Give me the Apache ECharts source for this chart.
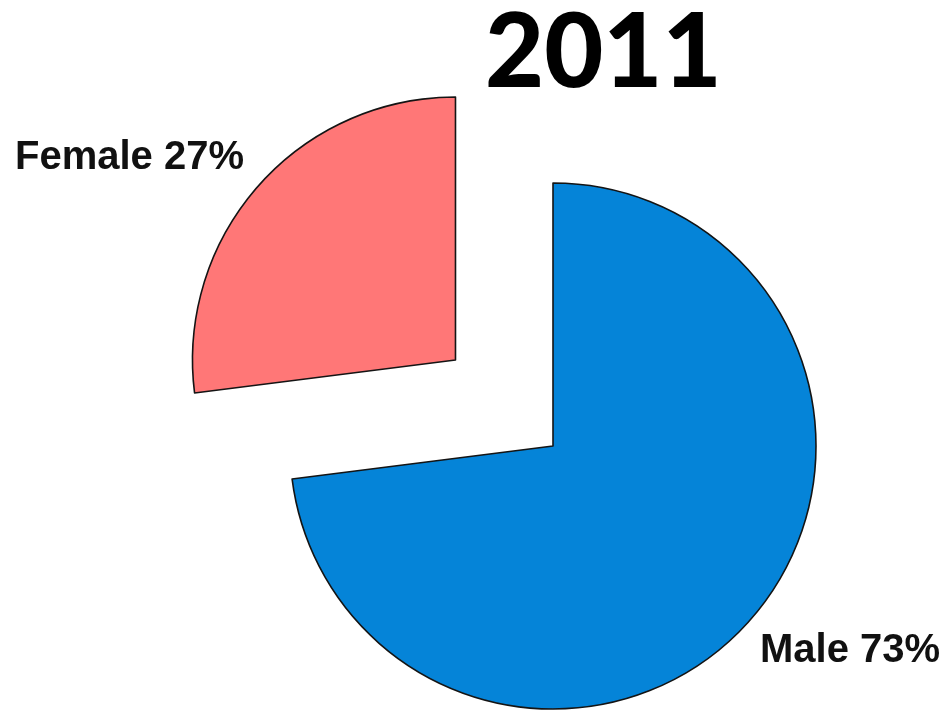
<!DOCTYPE html>
<html>
<head>
<meta charset="utf-8">
<script src="https://cdn.jsdelivr.net/npm/echarts@6/dist/echarts.min.js"></script>
<style>
html,body{margin:0;padding:0;background:#fff;}
#c{width:948px;height:716px;}
</style>
</head>
<body>
<div id="c"></div>
<script>
var titleText = '2011';
var categories = ['Male', 'Female'];
var values = [73, 27];
var colors = ['#0584d8', '#ff7777'];
var explodedCategory = 'Female';

var chart = echarts.init(document.getElementById('c'));
var labelBoxes = {
  'Male': {left: 760, top: 631},
  'Female': {left: 15, top: 138}
};
var data = categories.map(function (name, i) {
  return {
    name: name,
    value: values[i],
    selected: name === explodedCategory,
    itemStyle: {color: colors[i]}
  };
});
var labelTitles = categories.map(function (name, i) {
  return {
    text: name + ' ' + values[i] + '%',
    left: labelBoxes[name].left,
    top: labelBoxes[name].top,
    padding: 0,
    textStyle: {
      fontFamily: 'Liberation Sans',
      fontWeight: 'bold',
      fontSize: 40,
      lineHeight: 40,
      color: '#111'
    }
  };
});
chart.setOption({
  animation: false,
  backgroundColor: '#ffffff',
  title: [{
    text: titleText,
    left: 485,
    top: 3,
    padding: 0,
    textStyle: {
      fontFamily: 'Lato',
      fontWeight: 900,
      fontSize: 102,
      lineHeight: 102,
      color: '#000'
    }
  }].concat(labelTitles),
  series: [{
    type: 'pie',
    center: [553, 446],
    radius: 263,
    startAngle: 90,
    clockwise: true,
    selectedMode: 'single',
    selectedOffset: 130,
    emphasis: {disabled: true},
    itemStyle: {borderColor: '#141414', borderWidth: 1.6},
    label: {show: false},
    labelLine: {show: false},
    data: data
  }]
});
</script>
</body>
</html>
